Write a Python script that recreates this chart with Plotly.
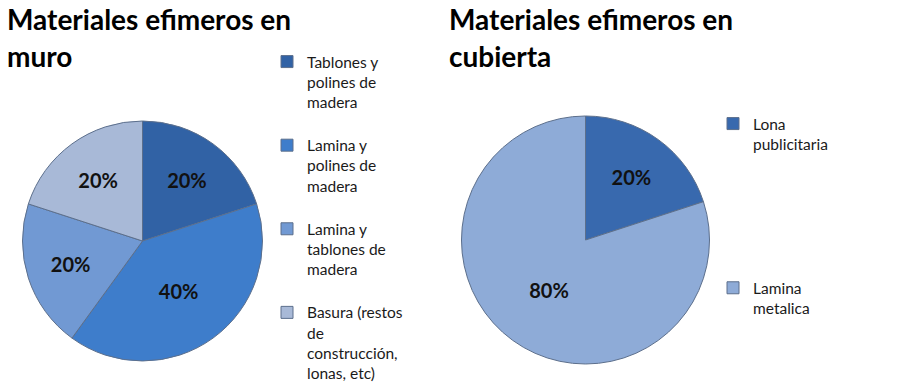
import plotly.graph_objects as go

muro_labels = ["Tablones y<br>polines de<br>madera<br>",
               "Lamina y<br>polines de<br>madera<br>",
               "Lamina y<br>tablones de<br>madera<br>",
               "Basura (restos<br>de<br>construcción,<br>lonas, etc)"]
muro_values = [20, 40, 20, 20]
muro_colors = ["#3162A5", "#3E7DCB", "#7199D3", "#A8B9D7"]

cub_labels = ["Lona<br>publicitaria<br><br><br><br><br><br>", "Lamina<br>metalica"]
cub_values = [20, 80]
cub_colors = ["#3869AE", "#8EABD7"]

W, H = 921, 391
def px(x): return x / W
def py(y): return 1 - y / H

border = dict(color="#5C6F8C", width=1)
pct_font = dict(family="Lato", size=20, color="#111111")

fig = go.Figure()
fig.add_trace(go.Pie(
    labels=muro_labels, values=muro_values, sort=False, direction="clockwise", rotation=0,
    marker=dict(colors=muro_colors, line=border),
    texttemplate="<b>%{percent:.0%}</b>", textposition="inside", insidetextorientation="horizontal",
    textfont=pct_font,
    domain=dict(x=[px(22), px(263)], y=[py(361), py(121)]),
    legend="legend", hoverinfo="label+percent",
))
fig.add_trace(go.Pie(
    labels=cub_labels, values=cub_values, sort=False, direction="clockwise", rotation=0,
    marker=dict(colors=cub_colors, line=border),
    texttemplate="<b>%{percent:.0%}</b>", textposition="inside", insidetextorientation="horizontal",
    textfont=pct_font,
    domain=dict(x=[px(460), px(711)], y=[py(364), py(116)]),
    legend="legend2", hoverinfo="label+percent",
))

titles = [("Materiales efimeros en", 5, 19), ("muro", 5, 56),
          ("Materiales efimeros en", 447, 19), ("cubierta", 447, 56)]
for t, x, y in titles:
    fig.add_annotation(text=t, x=px(x), y=py(y), xref="paper", yref="paper",
                       xanchor="left", yanchor="middle", showarrow=False,
                       font=dict(family="Lato", size=28, color="#000000", weight="bold"))

legend_font = dict(family="Lato", size=15.5, color="#1a1a1a")
fig.update_layout(
    width=W, height=H, margin=dict(l=0, r=0, t=0, b=0, autoexpand=False),
    paper_bgcolor="white", plot_bgcolor="white",
    legend=dict(x=px(267), y=py(45), xanchor="left", yanchor="top", font=legend_font,
                valign="top", bgcolor="rgba(0,0,0,0)", itemclick=False, itemdoubleclick=False),
    legend2=dict(x=px(713), y=py(107), xanchor="left", yanchor="top", font=legend_font,
                 valign="top", bgcolor="rgba(0,0,0,0)", itemclick=False, itemdoubleclick=False),
)
fig.write_html("out.html", config={"displayModeBar": False},
               post_script="document.body.style.margin='0';")
